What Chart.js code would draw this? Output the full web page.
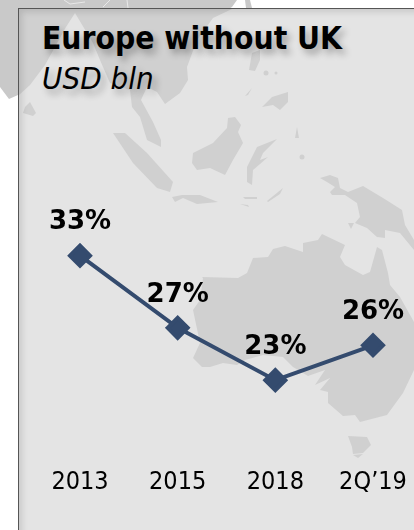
<!DOCTYPE html>
<html>
<head>
<meta charset="utf-8">
<title>Europe without UK</title>
<script src="https://cdn.jsdelivr.net/npm/chart.js@4/dist/chart.umd.min.js"></script>
<style>
  html, body { margin: 0; padding: 0; background: #fff; overflow: hidden; }
  #page { position: relative; width: 414px; height: 530px; overflow: hidden; font-family: "DejaVu Sans Condensed", "DejaVu Sans", sans-serif; }
  #panel { position: absolute; left: 18px; top: 8px; right: -4px; bottom: -4px; background: #e4e4e4; border-left: 1px solid #555; border-top: 1px solid #555; }
  #shade { position: absolute; left: 19px; top: 9px; right: -4px; bottom: -4px; box-shadow: inset 3px 3px 6px rgba(0,0,0,.12); }
  svg { position: absolute; left: 0; top: 0; }
  #frame { position: absolute; left: 0; top: 0; width: 414px; height: 530px; }
  .head { position: absolute; left: 42px; color: #000; white-space: nowrap; text-shadow: 4px 5px 7px rgba(0,0,0,.3); }
  #t1 { top: 20px; font-size: 31.5px; font-weight: bold; }
  #t2 { top: 60px; font-size: 31px; font-style: italic; }
</style>
</head>
<body>
<div id="page">
  <svg width="414" height="530"><path id="asia" fill="#c9c9c9" d="M0 0L237 0L232 7L213 18L197 40L187 67L188 80L180 93L165 104L157 92L147 87L141 100L153 122L161 140L161 147L147 140L140 117L132 107L130 90L110 83L100 60L93 43L75 13L66 27L45 65L30 85L18 95L9 99L0 87Z"/><path fill="#c9c9c9" d="M245 0L250 0L252 8L250 14L246 8Z"/><path fill="none" stroke="#e8e8e8" d="M64 0L70 4L85 2M103 7L110 0M127 0L128 8"/></svg>
  <div id="panel"></div>
  <svg width="414" height="530" fill="#d0d0d0">
    <path d="M19 9L232 9L213 18L197 40L187 67L188 80L180 93L165 104L157 92L147 87L141 100L153 122L161 140L161 147L147 140L140 117L132 107L130 90L110 83L100 60L93 43L75 13L66 27L45 65L30 85L19 95Z"/>
    <path d="M30 102L36 113L33 116L23 113L25 107Z"/>
    <path d="M113 133L125 133L147 153L173 182L170 192L157 188L133 163Z"/>
    <path d="M172 197L182 195L200 195L218 202L197 204L183 198L175 202Z"/>
    <path d="M243 197L257 197L257 199L245 199Z"/>
    <path d="M267 201L283 188L280 194L268 202Z"/>
    <path d="M240 204L248 205L249 207Z"/>
    <path d="M193 153L213 143L227 128L228 118L235 117L241 125L238 132L243 143L233 160L225 175L210 168L197 170L192 163Z"/>
    <path d="M247 167L257 147L277 139L263 153L260 160L268 157L253 170L252 185L247 182Z"/>
    <path d="M262 107L272 97L288 92L288 102L280 110L273 105Z"/>
    <path d="M245 96L252 88L248 95Z"/>
    <path d="M249 70L252 53L260 50L260 60L255 71Z"/>
    <circle cx="266" cy="73" r="2.5"/><circle cx="276" cy="73" r="1.5"/>
    <path d="M297 127L299 138L295 138Z"/>
    <circle cx="302" cy="157" r="2.5"/>
    <path d="M320 178L330 175L338 178L340 188L348 192L363 186L383 198L402 210L405 225L414 240L414 250L400 233L385 230L385 238L377 237L367 228L355 223L360 217L357 203L345 195L332 195L330 192L335 187L327 182Z"/>
    <path d="M348 223L354 223L351 229Z"/>
    <path d="M202 277L238 278L247 273L253 258L268 257L273 249L285 246L303 252L303 243L318 240L322 234L345 245L340 257L345 265L363 275L370 272L377 247L382 250L388 273L390 285L400 297L414 322L414 370L403 393L387 415L360 422L355 415L343 416L328 403L328 392L320 390L330 378L315 385L325 370L308 376L293 367L283 357L263 355L245 360L237 365L223 363L210 367L202 367L193 358L200 343L193 310L200 300L203 278Z"/>
    <path d="M348 436L367 437L371 445L363 453L353 454L352 447Z"/>
    <path d="M353 455L363 454L358 458Z"/>
  </svg>
  <div id="shade"></div>
  <div id="t1" class="head">Europe without UK</div>
  <div id="t2" class="head">USD bln</div>
  <div id="frame"><canvas id="grafico"></canvas></div>
</div>
<script>
// Dados
const categorias = ['2013', '2015', '2018', '2Q\u201919'];
const valores = [33, 27.2, 23, 25.8];
const rotulos = ['33%', '27%', '23%', '26%'];

const fonte = '"DejaVu Sans Condensed", "DejaVu Sans", sans-serif';

// Escreve o rótulo em cima de cada ponto
const pluginRotulos = {
    id: 'rotulos',
    afterDatasetsDraw(chart) {
        const ctx = chart.ctx;
        const pontos = chart.getDatasetMeta(0).data;
        ctx.save();
        ctx.font = 'bold 26px "DejaVu Sans", sans-serif';
        ctx.fillStyle = '#000';
        ctx.textAlign = 'center';
        ctx.textBaseline = 'middle';
        pontos.forEach((p, i) => ctx.fillText(rotulos[i], p.x, p.y - 33));
        ctx.restore();
    }
};

new Chart(document.getElementById('grafico'), {
    type: 'line',
    data: {
        labels: categorias,
        datasets: [{
            data: valores,
            borderColor: '#344b6e',
            backgroundColor: '#344b6e',
            borderWidth: 4,
            tension: 0,
            pointStyle: 'rectRot',
            pointRadius: 10,
            pointHoverRadius: 10
        }]
    },
    options: {
        responsive: true,
        maintainAspectRatio: false,
        animation: false,
        layout: { padding: { left: 80, right: 41, top: 168.5, bottom: 27.5 } },
        plugins: { legend: { display: false }, title: { display: false }, tooltip: { enabled: false } },
        scales: {
            x: {
                offset: false,
                // o tickLength transparente empurra os rótulos para baixo sem encolher o gráfico
                grid: { color: 'transparent', drawOnChartArea: false, tickLength: 45 },
                border: { display: false },
                ticks: { color: '#000', font: { family: fonte, size: 25 }, padding: 5, maxRotation: 0, autoSkip: false }
            },
            y: { display: false, min: 20, max: 40 }
        }
    },
    plugins: [pluginRotulos]
});
</script>
</body>
</html>
